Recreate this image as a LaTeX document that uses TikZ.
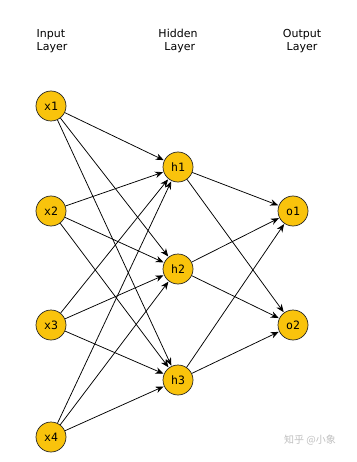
\documentclass[tikz,border=0pt]{standalone}
\usepackage{fontspec}
\setmainfont{DejaVu Sans}
\newfontfamily\monofont{DejaVu Sans Mono}
\newfontfamily\cjk{Noto Sans CJK SC}
\usepackage{tikz}
\usetikzlibrary{arrows.meta}
\definecolor{nodegold}{RGB}{249,195,12}

\begin{document}
\begin{tikzpicture}[x=1pt, y=-1pt, every node/.style={font=\fontsize{11}{13.5}\selectfont}]
\tikzset{v/.style={circle, draw=black!85, fill=nodegold, line width=0.7pt, minimum size=30pt, inner sep=0, font=\monofont\fontsize{11.5}{13}\selectfont},
  e/.style={-{Stealth[length=8pt,width=6.5pt]}, line width=0.75pt, shorten >=0.5pt}}
\useasboundingbox (0,0) rectangle (356,462);
% --- layer titles ---
\node[align=left] (tin) at (52,41) {Input\\Layer};
\node[align=center] (thid) at (178,41) {Hidden\\\ Layer};
\node[align=center] (tout) at (302,41) {Output\\Layer};
% --- input layer ---
\foreach \i/\y in {1/106,2/211,3/325,4/437} \node[v] (x\i) at (51,\y) {x\i};
% --- hidden layer ---
\foreach \i/\y in {1/167,2/269,3/380} \node[v] (h\i) at (178,\y) {h\i};
% --- output layer ---
\foreach \i/\y in {1/211,2/325} \node[v] (o\i) at (293,\y) {o\i};
% --- connections ---
\foreach \i in {1,...,4} \foreach \j in {1,...,3} \draw[e] (x\i) -- (h\j);
\foreach \j in {1,...,3} \foreach \k in {1,2} \draw[e] (h\j) -- (o\k);
% --- watermark ---
\node[font=\cjk\fontsize{10}{12}\selectfont, text=black!25] (wm) at (310,440) {知乎 @小象};
\end{tikzpicture}
\end{document}
